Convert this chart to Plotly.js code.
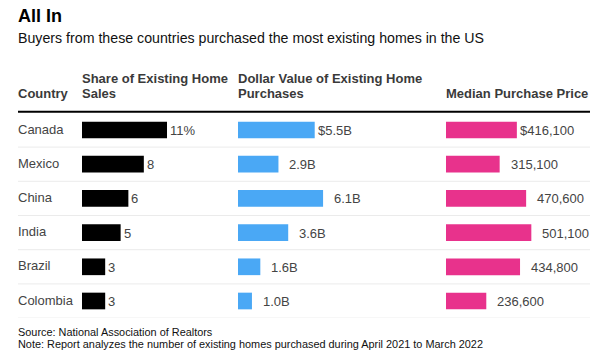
<!DOCTYPE html>
<html>
<head>
<meta charset="utf-8">
<script src="https://cdn.plot.ly/plotly-3.0.1.min.js"></script>
<style>html,body{margin:0;padding:0;background:#fff}</style>
</head>
<body>
<div id="chart" style="width:600px;height:364px"></div>
<script>
// ---- data ----
const countries = ["Canada", "Mexico", "China", "India", "Brazil", "Colombia"];
const shareValues = [11, 8, 6, 5, 3, 3];
const shareLabels = ["11%", "8", "6", "5", "3", "3"];
const dollarValues = [5.5, 2.9, 6.1, 3.6, 1.6, 1.0];
const dollarLabels = ["$5.5B", "2.9B", "6.1B", "3.6B", "1.6B", "1.0B"];
const priceValues = [416100, 315100, 470600, 501100, 434800, 236600];
const priceLabels = ["$416,100", "315,100", "470,600", "501,100", "434,800", "236,600"];
const titleText = "All In";
const subtitleText = "Buyers from these countries purchased the most existing homes in the US";
const headerCountry = "Country";
const headerShare = ["Share of Existing Home", "Sales"];
const headerDollar = ["Dollar Value of Existing Home", "Purchases"];
const headerPrice = ["Median Purchase Price"];
const sourceText = "Source: National Association of Realtors";
const noteText = "Note: Report analyzes the number of existing homes purchased during April 2021 to March 2022";

// ---- layout helpers ----
const W = 600, H = 364;
const px = v => v / W;
const py = v => 1 - v / H;
const FONT = "Liberation Sans, Arial, Helvetica, sans-serif";

const colors = {share: "#000000", dollar: "#4aa8f5", price: "#e8328c"};

const traces = [
  {type: "bar", orientation: "h", x: shareValues, y: countries, xaxis: "x", yaxis: "y",
   marker: {color: colors.share}, hoverinfo: "skip"},
  {type: "bar", orientation: "h", x: dollarValues, y: countries, xaxis: "x2", yaxis: "y",
   marker: {color: colors.dollar}, hoverinfo: "skip"},
  {type: "bar", orientation: "h", x: priceValues, y: countries, xaxis: "x3", yaxis: "y",
   marker: {color: colors.price}, hoverinfo: "skip"}
];

const hiddenX = (dom, range) => ({domain: dom, range: range, anchor: "y", showgrid: false,
  zeroline: false, showticklabels: false, showline: false, ticks: "", fixedrange: true});

const annotations = [];
function txt(text, x, y, size, color, bold, extra) {
  annotations.push(Object.assign({
    text: bold ? "<b>" + text + "</b>" : text,
    xref: "paper", yref: "paper", x: px(x), y: py(y),
    xanchor: "left", yanchor: "middle", showarrow: false,
    borderpad: 0, borderwidth: 0,
    font: {family: FONT, size: size, color: color}
  }, extra || {}));
}

// titles
txt(titleText, 18, 16, 18, "#000", true);
txt(subtitleText, 18, 38, 14.2, "#111", false);
// headers
const HC = "#3a3a3a";
txt(headerCountry, 18, 93, 13, HC, true);
headerShare.forEach((t, i) => txt(t, 82, 78.5 + i * 14.5, 13, HC, true));
headerDollar.forEach((t, i) => txt(t, 238, 78.5 + i * 14.5, 13, HC, true));
headerPrice.forEach((t, i) => txt(t, 446, 93, 13, HC, true));
// footer
txt(sourceText, 18, 331.7, 10.9, "#111", false);
txt(noteText, 18, 343.7, 10.9, "#111", false);

// country labels
countries.forEach(c => annotations.push({
  text: c, xref: "paper", yref: "y", x: px(18), y: c, xanchor: "left", yanchor: "middle",
  showarrow: false, borderpad: 0, borderwidth: 0, yshift: 1,
  font: {family: FONT, size: 13, color: "#444"}
}));

// value labels
function valueLabels(vals, labels, xref, gapPlain, gapDollar) {
  vals.forEach((v, i) => annotations.push({
    text: labels[i], xref: xref, yref: "y", x: v, y: countries[i],
    xanchor: "left", yanchor: "middle", showarrow: false, borderpad: 0, borderwidth: 0,
    xshift: labels[i].startsWith("$") ? gapDollar : gapPlain, yshift: -0.5,
    font: {family: FONT, size: 13, color: "#444"}
  }));
}
valueLabels(shareValues, shareLabels, "x", 3, 3);
valueLabels(dollarValues, dollarLabels, "x2", 11, 3);
valueLabels(priceValues, priceLabels, "x3", 11, 3);

// lines
const shapes = [
  {type: "line", xref: "paper", yref: "paper", x0: px(18), x1: px(590), y0: py(111.7), y1: py(111.7),
   line: {color: "#000", width: 2}}
];
countries.forEach((c, i) => shapes.push({
  type: "line", xref: "paper", yref: "y", x0: px(18), x1: px(590), y0: i + 0.5, y1: i + 0.5,
  line: {color: "#ebebeb", width: 1}
}));

const layout = {
  width: W, height: H,
  margin: {l: 0, r: 0, t: 0, b: 0, pad: 0},
  paper_bgcolor: "#fff", plot_bgcolor: "#fff",
  showlegend: false,
  bargap: 0.512,
  font: {family: FONT},
  xaxis: hiddenX([px(82), px(230)], [0, 19.15]),
  xaxis2: hiddenX([px(238), px(438)], [0, 14.34]),
  xaxis3: hiddenX([px(446), px(590)], [0, 845600]),
  yaxis: {domain: [py(318.1), py(112.9)], type: "category", categoryorder: "array",
    categoryarray: countries, range: [countries.length - 0.5, -0.5],
    showgrid: false, zeroline: false, showticklabels: false, showline: false, ticks: "",
    fixedrange: true},
  shapes: shapes,
  annotations: annotations
};

Plotly.newPlot("chart", traces, layout, {staticPlot: true, displayModeBar: false});
</script>
</body>
</html>
